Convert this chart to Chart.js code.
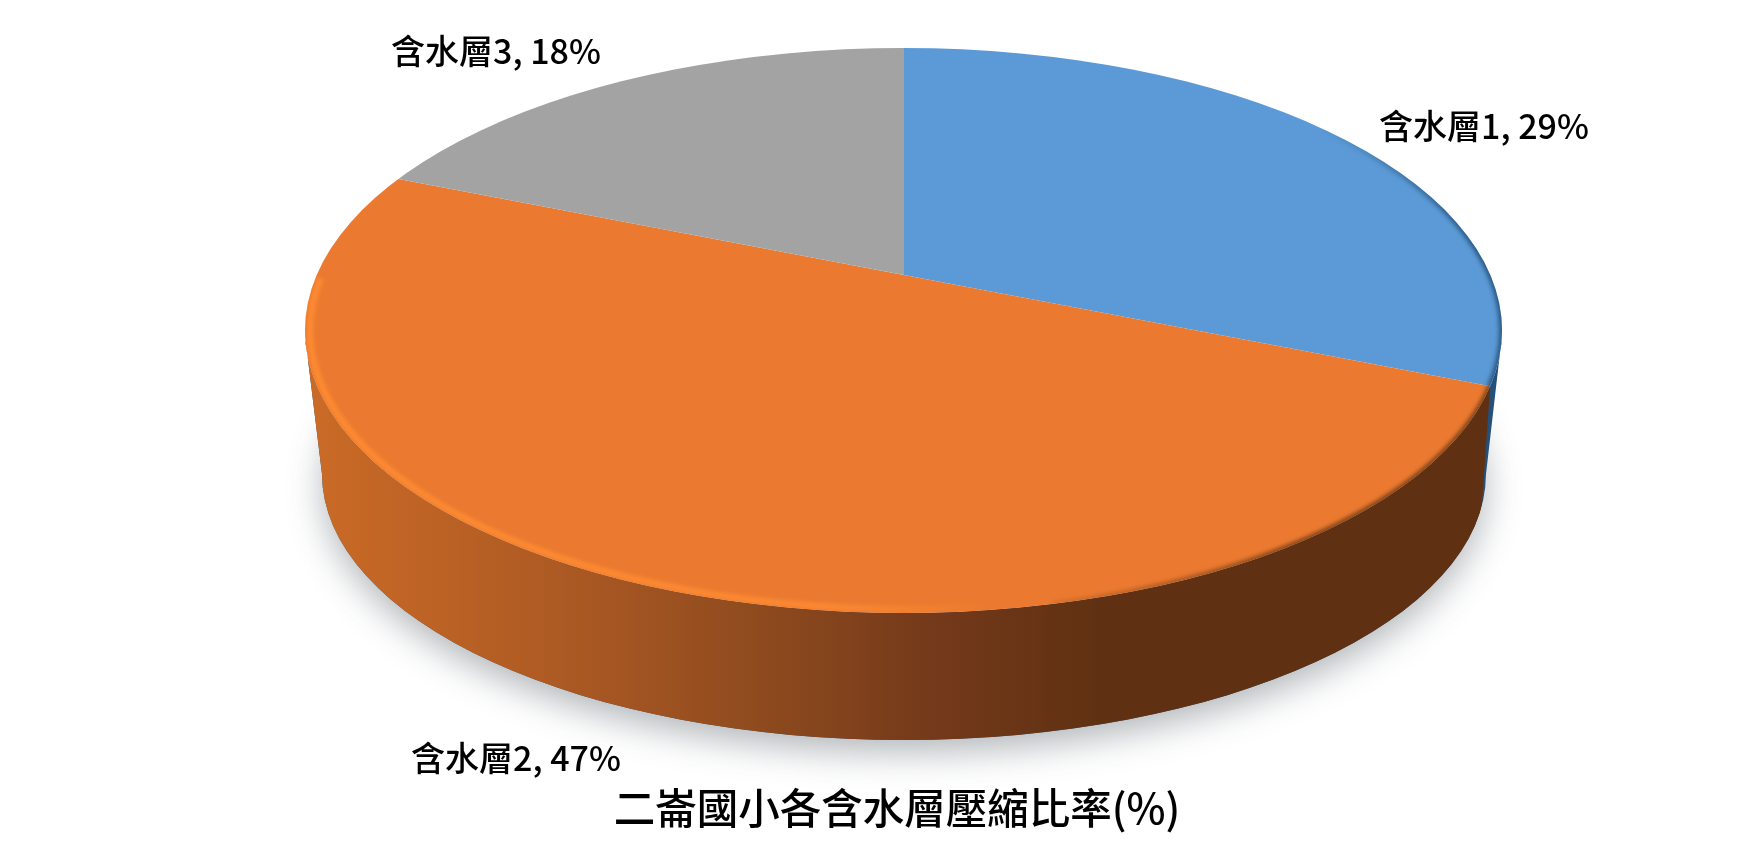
<!DOCTYPE html>
<html>
<head>
<meta charset="utf-8">
<style>
  html, body { margin: 0; background: #fff; }
  canvas { display: block; }
</style>
<script src="https://cdn.jsdelivr.net/npm/chart.js@4"></script>
</head>
<body>
<canvas id="myChart" width="1754" height="855"></canvas>
<script>
const categories = ['含水層1', '含水層2', '含水層3'];
const values = [29, 47, 18];
const colors = ['#5b9ad6', '#eb7a30', '#a3a3a3'];
const chartTitle = '二崙國小各含水層壓縮比率(%)';

// where the three outside labels sit (text centre)
const labelSpots = [[1484, 126], [516, 758], [496, 51]];
const fontName = '"Noto Sans CJK TC", "Noto Sans", sans-serif';

// the disc as seen in perspective: outline, and the point the slices meet in
const top3d = { x: 903.5, y: 330.5, rx: 598.5, ry: 282.5 };
const bottom3d = { x: 904, y: 474, rx: 582, ry: 266 };
const apex = { x: 904, y: 275 };
const tilt = 0.493;
const pieReach = 760;

// point on the rim of the disc in the direction of a slice edge
function rimPoint(angle) {
  const dx = Math.cos(angle);
  const dy = Math.sin(angle) * tilt;
  const ox = (apex.x - top3d.x) / top3d.rx;
  const oy = (apex.y - top3d.y) / top3d.ry;
  const ux = dx / top3d.rx;
  const uy = dy / top3d.ry;
  const a = ux * ux + uy * uy;
  const b = 2 * (ox * ux + oy * uy);
  const c = ox * ox + oy * oy - 1;
  const s = (-b + Math.sqrt(b * b - 4 * a * c)) / (2 * a);
  return { x: apex.x + dx * s, y: apex.y + dy * s };
}

function rimParam(p) {
  return Math.atan2((p.y - top3d.y) / top3d.ry, (p.x - top3d.x) / top3d.rx);
}

function wallPath(ctx) {
  ctx.beginPath();
  ctx.moveTo(top3d.x - top3d.rx, top3d.y + 5);
  ctx.lineTo(bottom3d.x - bottom3d.rx, bottom3d.y);
  ctx.ellipse(bottom3d.x, bottom3d.y, bottom3d.rx, bottom3d.ry, 0, Math.PI, 0, true);
  ctx.lineTo(top3d.x + top3d.rx, top3d.y + 5);
  ctx.ellipse(top3d.x, top3d.y, top3d.rx, top3d.ry, 0, 0, Math.PI, false);
  ctx.closePath();
}

const disc3d = {
  id: 'disc3d',
  beforeDatasetsDraw(chart) {
    const ctx = chart.ctx;
    const edge = rimPoint(chart.getDatasetMeta(0).data[0].endAngle);
    const t = rimParam(edge) * 0.6;
    const foot = {
      x: bottom3d.x + bottom3d.rx * Math.cos(t),
      y: bottom3d.y + bottom3d.ry * Math.sin(t)
    };

    // soft shadow under the disc
    ctx.save();
    ctx.shadowColor = 'rgba(60, 70, 80, 0.38)';
    ctx.shadowBlur = 34;
    ctx.shadowOffsetY = 13;
    ctx.fillStyle = '#fff';
    ctx.beginPath();
    ctx.ellipse(bottom3d.x, bottom3d.y, bottom3d.rx, bottom3d.ry, 0, 0, Math.PI * 2);
    ctx.fill();
    ctx.restore();

    // side wall: blue sliver first, the orange part over it
    ctx.save();
    wallPath(ctx);
    ctx.clip();
    ctx.fillStyle = '#24507a';
    ctx.fillRect(0, 0, chart.width, chart.height);

    const wall = ctx.createLinearGradient(320, 0, 1486, 0);
    wall.addColorStop(0, '#c96a26');
    wall.addColorStop(0.18, '#b15c24');
    wall.addColorStop(0.38, '#8e4a1e');
    wall.addColorStop(0.53, '#73391a');
    wall.addColorStop(0.67, '#5f3112');
    wall.addColorStop(1, '#5f3112');
    ctx.fillStyle = wall;
    ctx.beginPath();
    ctx.moveTo(0, 0);
    ctx.lineTo(edge.x - 40, 0);
    ctx.lineTo(edge.x, edge.y);
    ctx.lineTo(foot.x, foot.y);
    ctx.lineTo(foot.x - 80, chart.height);
    ctx.lineTo(0, chart.height);
    ctx.closePath();
    ctx.fill();
    ctx.restore();
  },
  beforeDatasetDraw(chart) {
    const ctx = chart.ctx;
    const arc = chart.getDatasetMeta(0).data[0];
    const s = pieReach / arc.outerRadius;
    ctx.save();
    ctx.beginPath();
    ctx.ellipse(top3d.x, top3d.y, top3d.rx, top3d.ry, 0, 0, Math.PI * 2);
    ctx.clip();
    ctx.translate(apex.x, apex.y);
    ctx.scale(s, s * tilt);
    ctx.translate(-arc.x, -arc.y);
  },
  afterDatasetDraw(chart) {
    const ctx = chart.ctx;
    ctx.restore();

    const edge = rimPoint(chart.getDatasetMeta(0).data[0].endAngle);
    const t = rimParam(edge);

    // bevel along the rim of the top face
    ctx.save();
    ctx.beginPath();
    ctx.ellipse(top3d.x, top3d.y, top3d.rx, top3d.ry, 0, 0, Math.PI * 2);
    ctx.clip();
    ctx.filter = 'blur(2px)';

    const glow = ctx.createLinearGradient(305, 0, 1000, 0);
    glow.addColorStop(0, 'rgba(255, 140, 50, 1)');
    glow.addColorStop(0.75, 'rgba(255, 140, 50, 0.9)');
    glow.addColorStop(1, 'rgba(255, 140, 50, 0)');
    ctx.strokeStyle = glow;
    ctx.lineWidth = 6;
    ctx.beginPath();
    ctx.ellipse(top3d.x, top3d.y, top3d.rx - 5, top3d.ry - 4, 0, Math.PI * 0.45, Math.PI * 1.06);
    ctx.stroke();

    const dark = ctx.createLinearGradient(1000, 0, 1300, 0);
    dark.addColorStop(0, 'rgba(95, 49, 18, 0)');
    dark.addColorStop(1, 'rgba(95, 49, 18, 0.85)');
    ctx.strokeStyle = dark;
    ctx.lineWidth = 5;
    ctx.beginPath();
    ctx.ellipse(top3d.x, top3d.y, top3d.rx, top3d.ry, 0, t, Math.PI * 0.42);
    ctx.stroke();

    const rimBlue = ctx.createLinearGradient(1320, 0, 1470, 0);
    rimBlue.addColorStop(0, 'rgba(36, 80, 122, 0)');
    rimBlue.addColorStop(1, 'rgba(36, 80, 122, 0.9)');
    ctx.strokeStyle = rimBlue;
    ctx.lineWidth = 6;
    ctx.beginPath();
    ctx.ellipse(top3d.x, top3d.y, top3d.rx, top3d.ry, 0, -Math.PI * 0.3, t);
    ctx.stroke();
    ctx.restore();
  },
  afterDraw(chart) {
    const ctx = chart.ctx;
    ctx.save();
    ctx.fillStyle = '#000';
    ctx.font = '500 34px ' + fontName;
    ctx.textAlign = 'center';
    ctx.textBaseline = 'middle';
    categories.forEach((name, i) => {
      ctx.fillText(name + ', ' + values[i] + '%', labelSpots[i][0], labelSpots[i][1]);
    });
    ctx.restore();
  }
};

const myChart = new Chart(document.getElementById('myChart'), {
  type: 'pie',
  data: {
    labels: categories,
    datasets: [{
      data: values,
      backgroundColor: colors,
      borderWidth: 0,
      clip: false
    }]
  },
  options: {
    responsive: false,
    animation: false,
    layout: { padding: { left: 40 } },
    plugins: {
      legend: { display: false },
      tooltip: { enabled: false },
      title: {
        display: true,
        text: chartTitle,
        position: 'bottom',
        color: '#000',
        font: { family: fontName, size: 41.5, weight: '500' },
        padding: { top: 0, bottom: 22 }
      }
    }
  },
  plugins: [disc3d]
});
</script>
</body>
</html>
